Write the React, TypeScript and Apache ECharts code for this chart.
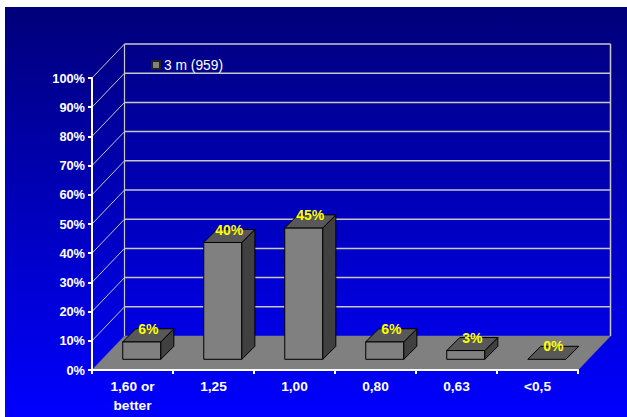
import React, { useEffect, useRef } from "react";
import * as echarts from "echarts";

const categories = ["1,60 or\nbetter", "1,25", "1,00", "0,80", "0,63", "<0,5"];
const values = [6, 40, 45, 6, 3, 0];
const seriesName = "3 m (959)";
const yMin = 0;
const yMax = 100;
const yStep = 10;

const FONT = "'Liberation Sans', Arial, Helvetica, sans-serif";

export default function App() {
  const ref = useRef<HTMLDivElement>(null);

  useEffect(() => {
    const chart = echarts.init(ref.current!, null, { renderer: "svg" });

    const WALL_DX = 32.5;
    const WALL_DY = -34;
    const BAR_DX = 9.3;
    const BAR_DY = -10.7;
    const DEPTH_DX = 13;
    const DEPTH_DY = -13;

    const ticks: number[] = [];
    for (let v = yMin; v <= yMax; v += yStep) ticks.push(v);

    const option: any = {
      animation: false,
      backgroundColor: "#ffffff",
      textStyle: { fontFamily: FONT },
      graphic: [
        {
          type: "rect",
          silent: true,
          z: -10,
          shape: { x: 5, y: 7, width: 622, height: 410 },
          style: {
            fill: new echarts.graphic.LinearGradient(0, 0, 0, 1, [
              { offset: 0, color: "#00007a" },
              { offset: 1, color: "#0000ff" },
            ]),
          },
        },
      ],
      legend: {
        data: [seriesName],
        left: 146,
        top: 53,
        itemWidth: 8,
        itemHeight: 8,
        icon: "rect",
        itemGap: 4,
        textStyle: { color: "#ffffff", fontSize: 13.8, fontFamily: FONT, padding: [0, 0, 0, -1] },
      },
      grid: { left: 92, right: 49, top: 78, bottom: 47, containLabel: false },
      xAxis: {
        type: "category",
        data: categories,
        z: 5,
        axisLine: { lineStyle: { color: "#ffffff", width: 2 } },
        axisTick: { show: true, length: 4, lineStyle: { color: "#ffffff", width: 2 } },
        axisLabel: {
          interval: 0,
          color: "#ffffff",
          fontWeight: "bold",
          fontSize: 13.7,
          lineHeight: 19.3,
          margin: 7,
          fontFamily: FONT,
        },
        splitLine: { show: false },
      },
      yAxis: {
        type: "value",
        min: yMin,
        max: yMax,
        interval: yStep,
        z: 5,
        axisLine: { show: true, lineStyle: { color: "#ffffff", width: 2 } },
        axisTick: { show: true, length: 4, lineStyle: { color: "#ffffff", width: 2 } },
        axisLabel: {
          color: "#ffffff",
          fontWeight: "bold",
          fontSize: 12.8,
          margin: 7,
          fontFamily: FONT,
          formatter: "{value}%",
        },
        splitLine: { show: false },
      },
      series: [
        {
          type: "custom",
          name: "walls",
          silent: true,
          z: 1,
          clip: false,
          data: [[0, 0]],
          renderItem: (params: any, api: any) => {
            const cs = params.coordSys;
            const x0 = cs.x;
            const x1 = cs.x + cs.width;
            const y0 = api.coord([0, yMin])[1];
            const children: any[] = [];
            children.push({
              type: "polygon",
              shape: {
                points: [
                  [x0, y0],
                  [x1, y0],
                  [x1 + WALL_DX, y0 + WALL_DY],
                  [x0 + WALL_DX, y0 + WALL_DY],
                ],
              },
              style: { fill: "#808080", stroke: "#808080", lineWidth: 0.5 },
            });
            const yTop = api.coord([0, yMax])[1];
            ticks.forEach((v) => {
              const y = api.coord([0, v])[1];
              if (v > yMin) {
                children.push({
                  type: "line",
                  shape: { x1: x0 + WALL_DX, y1: y + WALL_DY, x2: x1 + WALL_DX, y2: y + WALL_DY },
                  style: { stroke: "#c8c8c8", lineWidth: 1.5 },
                });
                children.push({
                  type: "line",
                  shape: { x1: x0, y1: y, x2: x0 + WALL_DX, y2: y + WALL_DY },
                  style: { stroke: "#c8c8c8", lineWidth: 1 },
                });
              }
            });
            children.push({
              type: "line",
              shape: { x1: x0 + WALL_DX, y1: y0 + WALL_DY, x2: x0 + WALL_DX, y2: yTop + WALL_DY },
              style: { stroke: "#c8c8c8", lineWidth: 1.2 },
            });
            children.push({
              type: "line",
              shape: { x1: x1 + WALL_DX, y1: y0 + WALL_DY, x2: x1 + WALL_DX, y2: yTop + WALL_DY },
              style: { stroke: "#c8c8c8", lineWidth: 1.5 },
            });
            return { type: "group", children };
          },
        },
        {
          type: "custom",
          name: seriesName,
          z: 3,
          clip: false,
          itemStyle: { color: "#808080", borderColor: "#202020", borderWidth: 1 },
          data: values.map((v, i) => [i, v]),
          encode: { x: 0, y: 1 },
          renderItem: (params: any, api: any) => {
            const idx = api.value(0);
            const v = api.value(1);
            const base = api.coord([idx, 0]);
            const top = api.coord([idx, v]);
            const bw = api.size([1, 0])[0] * 0.47;
            const fx0 = base[0] + BAR_DX - bw / 2;
            const fx1 = fx0 + bw;
            const fyB = base[1] + BAR_DY;
            const fyT = top[1] + BAR_DY;
            const stroke = { stroke: "#000000", lineWidth: 1, lineJoin: "miter" };
            const children: any[] = [];
            if (fyB - fyT > 0.5) {
              children.push({
                type: "polygon",
                shape: { points: [[fx0, fyT], [fx1, fyT], [fx1, fyB], [fx0, fyB]] },
                style: { fill: "#808080", ...stroke },
              });
              children.push({
                type: "polygon",
                shape: {
                  points: [
                    [fx1, fyT],
                    [fx1 + DEPTH_DX, fyT + DEPTH_DY],
                    [fx1 + DEPTH_DX, fyB + DEPTH_DY],
                    [fx1, fyB],
                  ],
                },
                style: { fill: "#404040", ...stroke },
              });
            }
            children.push({
              type: "polygon",
              shape: {
                points: [
                  [fx0, fyT],
                  [fx1, fyT],
                  [fx1 + DEPTH_DX, fyT + DEPTH_DY],
                  [fx0 + DEPTH_DX, fyT + DEPTH_DY],
                ],
              },
              style: { fill: "#585858", ...stroke },
            });
            children.push({
              type: "text",
              x: fx0 + bw / 2 + DEPTH_DX / 2,
              y: fyT + DEPTH_DY,
              z2: 10,
              style: {
                text: v + "%",
                fill: "#ffff00",
                font: "bold 14px " + FONT,
                align: "center",
                verticalAlign: "middle",
              },
            });
            return { type: "group", children };
          },
        },
      ],
    };

    chart.setOption(option);
    return () => {
      chart.dispose();
    };
  }, []);

  return (
    <div
      ref={ref}
      style={{ position: "absolute", left: 0, top: 0, width: 627, height: 417 }}
    />
  );
}
